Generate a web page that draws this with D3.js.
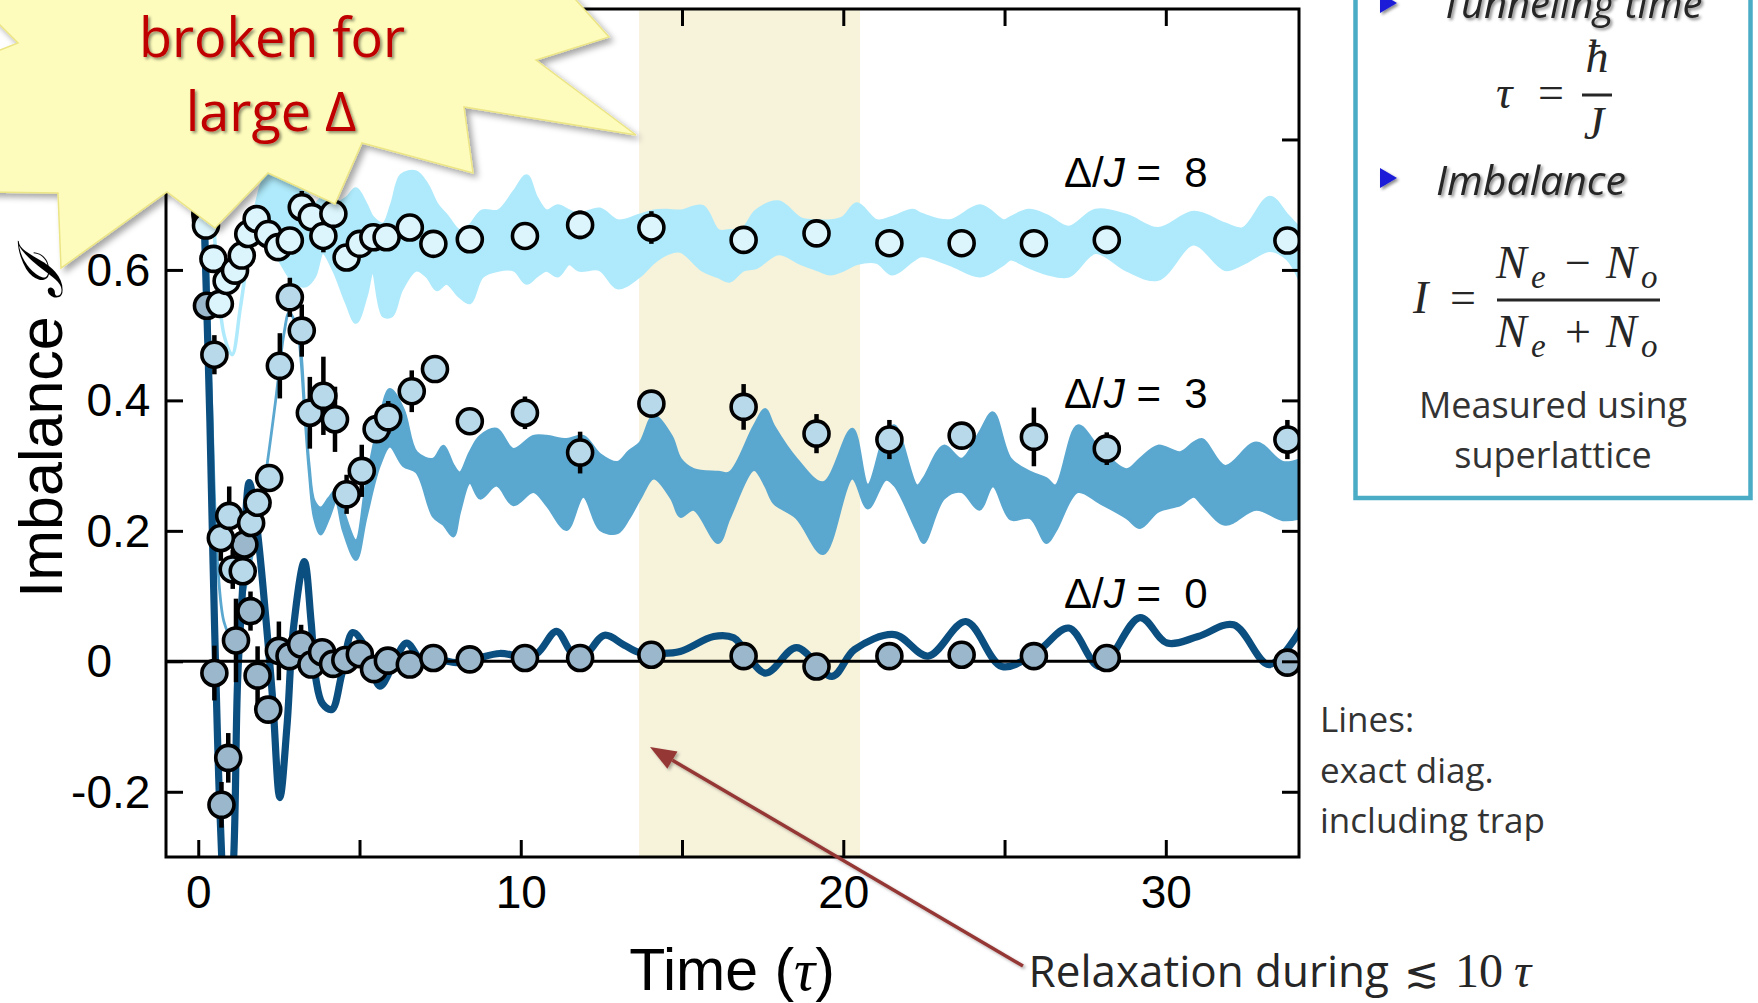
<!DOCTYPE html>
<html>
<head>
<meta charset="utf-8">
<script src="https://cdn.jsdelivr.net/npm/d3@7"></script>
<style>
  html, body { margin: 0; padding: 0; background: #fff; }
  svg { display: block; }
</style>
</head>
<body>
<svg id="chart" width="1758" height="1003"></svg>
<script>
// ---------------- data ----------------
const xTicksAll   = [0, 5, 10, 15, 20, 25, 30];
const xTicksMajor = [0, 10, 20, 30];
const yTickValues = [-0.2, 0, 0.2, 0.4, 0.6, 0.8];
const yTickLabels = ["-0.2", "0", "0.2", "0.4", "0.6"];
const relaxWindow = [13.67, 20.52];           // shaded relaxation window (tau)
const seriesNames = ["8", "3", "0"];          // Delta/J values

// measured imbalance: [time (tau), imbalance, error half-length]
const pointsD8 = [
  [0.24,0.668,0],[0.47,0.617,0],[0.67,0.548,0],[0.88,0.583,0],[1.14,0.599,0],
  [1.35,0.622,0],[1.55,0.655,0],[1.81,0.678,0],[2.17,0.655,0],[2.48,0.635,0],
  [2.84,0.645,0],[3.21,0.696,0.025],[3.52,0.681,0],[3.88,0.652,0.025],[4.19,0.686,0],
  [4.60,0.619,0],[5.01,0.640,0],[5.43,0.650,0],[5.84,0.650,0],[6.56,0.665,0],
  [7.29,0.640,0],[8.42,0.647,0],[10.13,0.652,0],[11.84,0.669,0.022],[14.05,0.665,0.025],
  [16.91,0.646,0],[19.17,0.656,0],[21.43,0.641,0],[23.67,0.641,0],[25.91,0.641,0],
  [28.17,0.646,0],[33.77,0.645,0]
];
const pointsD3 = [
  [0.24,0.676,0],[0.50,0.470,0.03],[0.70,0.189,0.035],[0.96,0.223,0.045],[1.07,0.141,0.03],
  [1.38,0.138,0],[1.64,0.212,0],[1.84,0.243,0],[2.20,0.281,0],[2.53,0.453,0.05],
  [2.84,0.558,0.03],[3.21,0.507,0.04],[3.46,0.381,0.055],[3.88,0.407,0.06],[4.24,0.371,0.05],
  [4.60,0.256,0.03],[5.07,0.292,0.04],[5.53,0.356,0.02],[5.89,0.374,0.025],[6.62,0.414,0.032],
  [7.34,0.448,0],[8.42,0.368,0.02],[10.13,0.381,0.025],[11.84,0.320,0.032],[14.05,0.395,0.02],
  [16.91,0.390,0.035],[19.17,0.349,0.03],[21.43,0.340,0.03],[23.67,0.346,0],[25.91,0.344,0.045],
  [28.17,0.326,0.025],[33.77,0.340,0.03]
];
const pointsD0 = [
  [0.22,0.685,0],[0.27,0.545,0],[0.50,-0.018,0.042],[0.72,-0.220,0.035],[0.93,-0.148,0.038],
  [1.17,0.032,0.064],[1.43,0.179,0],[1.62,0.077,0.03],[1.84,-0.022,0.045],[2.17,-0.074,0],
  [2.50,0.016,0.045],[2.83,0.008,0],[3.19,0.026,0.03],[3.51,-0.005,0],[3.84,0.014,0],
  [4.18,-0.004,0],[4.56,0.002,0],[5.01,0.011,0],[5.45,-0.012,0],[5.88,0.001,0],
  [6.56,-0.005,0],[7.29,0.005,0],[8.42,0.003,0],[10.13,0.005,0],[11.84,0.005,0],
  [14.05,0.010,0],[16.91,0.008,0],[19.17,-0.008,0],[21.43,0.008,0],[23.67,0.010,0],
  [25.91,0.008,0],[28.17,0.005,0],[33.77,-0.002,0]
];

// exact-diagonalisation bands: [time, lower, upper]
const theoryD8 = [
  [0,0.86,0.86],[0.3,0.80,0.80],[0.55,0.62,0.62],[0.8,0.50,0.50],[1.05,0.47,0.47],
  [1.3,0.54,0.54],[1.6,0.64,0.645],[1.85,0.70,0.71],[2.05,0.70,0.74],[2.3,0.64,0.75],
  [2.7,0.60,0.74],[3.0,0.58,0.73],[3.34,0.576,0.72],[3.6,0.59,0.70],[3.86,0.627,0.71],
  [4.2,0.60,0.70],[4.6,0.55,0.71],[4.89,0.52,0.724],[5.2,0.56,0.70],[5.41,0.60,0.68],
  [5.74,0.53,0.67],[6.0,0.53,0.70],[6.3,0.57,0.745],[6.75,0.60,0.75],[7.1,0.59,0.73],
  [7.4,0.57,0.70],[7.7,0.58,0.683],[8.1,0.56,0.66],[8.42,0.55,0.668],[8.8,0.59,0.69],
  [9.3,0.60,0.69],[9.8,0.60,0.72],[10.18,0.58,0.744],[10.49,0.591,0.71],[10.8,0.60,0.69],
  [11.15,0.591,0.698],[11.5,0.61,0.69],[11.8,0.60,0.685],[12.45,0.601,0.693],[13.0,0.573,0.675],
  [13.66,0.59,0.683],[14.12,0.612,0.69],[14.53,0.625,0.691],[14.95,0.629,0.69],[15.64,0.60,0.697],
  [16.12,0.59,0.66],[16.47,0.583,0.66],[16.89,0.60,0.663],[17.3,0.604,0.69],[17.99,0.625,0.704],
  [18.69,0.61,0.678],[19.24,0.60,0.675],[19.6,0.594,0.675],[20.0,0.60,0.68],[20.42,0.61,0.701],
  [21.04,0.612,0.675],[21.52,0.594,0.68],[22.15,0.615,0.691],[22.42,0.622,0.685],[23.3,0.609,0.675],
  [24.25,0.591,0.698],[24.98,0.61,0.675],[25.19,0.617,0.68],[25.75,0.605,0.691],[26.3,0.595,0.683],
  [26.99,0.591,0.665],[27.82,0.627,0.691],[28.79,0.60,0.683],[29.76,0.586,0.663],[30.87,0.640,0.688],
  [31.84,0.601,0.67],[32.39,0.61,0.663],[33.22,0.63,0.711],[33.77,0.617,0.683],[34.2,0.58,0.66]
];
const theoryD3 = [
  [0,0.86,0.86],[0.2,0.74,0.74],[0.4,0.42,0.42],[0.6,0.15,0.15],[0.8,0.06,0.06],
  [1.0,0.04,0.04],[1.3,0.08,0.08],[1.7,0.17,0.17],[2.1,0.29,0.29],[2.4,0.40,0.40],
  [2.65,0.50,0.50],[2.82,0.535,0.535],[3.0,0.52,0.52],[3.13,0.49,0.50],[3.3,0.38,0.39],
  [3.44,0.29,0.30],[3.6,0.22,0.245],[3.8,0.195,0.235],[4.05,0.22,0.25],[4.27,0.245,0.262],
  [4.5,0.20,0.23],[4.89,0.156,0.185],[5.2,0.22,0.27],[5.62,0.30,0.37],[5.94,0.33,0.417],
  [6.36,0.30,0.386],[6.77,0.29,0.32],[7.29,0.222,0.31],[7.6,0.21,0.33],[7.91,0.192,0.30],
  [8.11,0.23,0.289],[8.42,0.274,0.32],[8.74,0.25,0.345],[9.25,0.27,0.356],[9.77,0.24,0.325],
  [10.39,0.26,0.345],[10.8,0.24,0.345],[11.42,0.202,0.34],[11.94,0.253,0.345],[12.46,0.202,0.317],
  [13.0,0.197,0.305],[13.36,0.22,0.322],[13.7,0.25,0.335],[14.12,0.281,0.376],[14.67,0.25,0.345],
  [14.95,0.222,0.31],[15.36,0.233,0.294],[16.12,0.182,0.29],[16.47,0.22,0.289],[17.23,0.294,0.36],
  [17.58,0.27,0.386],[17.85,0.243,0.36],[18.55,0.22,0.31],[19.38,0.165,0.274],[20.28,0.281,0.356],
  [20.76,0.235,0.27],[21.32,0.279,0.35],[21.59,0.27,0.361],[22.29,0.20,0.269],[22.49,0.182,0.28],
  [23.12,0.25,0.33],[23.67,0.26,0.31],[24.22,0.233,0.35],[24.64,0.269,0.381],[25.19,0.218,0.31],
  [25.8,0.22,0.29],[26.3,0.182,0.28],[26.58,0.20,0.269],[27.27,0.26,0.361],[27.96,0.243,0.325],
  [28.79,0.22,0.294],[29.2,0.205,0.31],[29.76,0.23,0.33],[30.45,0.24,0.32],[30.87,0.253,0.335],
  [31.14,0.24,0.34],[31.84,0.21,0.299],[32.8,0.233,0.335],[33.63,0.217,0.305],[34.2,0.22,0.31]
];
// exact-diagonalisation curve for Delta/J = 0: [time, imbalance]
const theoryD0 = [
  [0,0.86],[0.1,0.80],[0.2,0.65],[0.36,0.37],[0.46,0.15],[0.55,-0.03],[0.68,-0.24],
  [0.88,-0.42],[1.08,-0.32],[1.22,-0.03],[1.38,0.115],[1.58,0.274],[1.79,0.217],[2.1,0.064],
  [2.31,-0.06],[2.53,-0.209],[2.75,-0.10],[2.95,0.05],[3.29,0.153],[3.5,0.06],[3.65,-0.028],
  [3.85,-0.065],[4.14,-0.074],[4.45,-0.02],[4.79,0.044],[5.2,0.02],[5.63,-0.038],[6.0,-0.01],
  [6.46,0.028],[6.95,0.0],[7.5,0.002],[8.0,-0.002],[8.6,0.004],[9.35,0.012],[10.0,0.008],
  [10.5,0.012],[11.11,0.046],[11.6,0.012],[11.95,0.008],[12.6,0.04],[13.2,0.025],[13.7,0.013],
  [14.3,0.012],[14.94,0.015],[15.98,0.038],[16.6,0.036],[17.58,-0.018],[18.55,0.021],[19.65,-0.023],
  [20.35,0.018],[21.59,0.041],[22.63,0.008],[23.8,0.061],[24.92,-0.008],[26.02,0.015],[26.99,0.051],
  [27.96,-0.008],[29.2,0.067],[30.04,0.028],[31.0,0.038],[32.1,0.056],[33.2,-0.005],[34.2,0.05]
];

// ---------------- layout ----------------
const svg = d3.select("#chart");
const M = { left: 166, right: 1299, top: 9, bottom: 857 };
const x = d3.scaleLinear().domain([-1, 34.13]).range([M.left, M.right]);
const y = d3.scaleLinear().domain([-0.3, 1.0]).range([M.bottom, M.top]);

const SANS = "'Liberation Sans', Arial, Helvetica, sans-serif";
const CAL  = "'Open Sans', 'Noto Sans', sans-serif";
const MATH = "'Liberation Serif', 'Times New Roman', serif";

const defs = svg.append("defs");
defs.append("clipPath").attr("id", "plotClip").append("rect")
  .attr("x", M.left).attr("y", M.top)
  .attr("width", M.right - M.left).attr("height", M.bottom - M.top);

function shadow(id, dx, dy, sd, op) {
  defs.append("filter").attr("id", id)
    .attr("x", "-20%").attr("y", "-20%").attr("width", "140%").attr("height", "140%")
    .append("feDropShadow").attr("dx", dx).attr("dy", dy).attr("stdDeviation", sd)
    .attr("flood-color", "#000").attr("flood-opacity", op);
}
shadow("starShadow", 4, 4, 3, 0.35);
shadow("textShadow", 2, 2, 1.4, 0.45);
shadow("lineShadow", 2, 2, 1.5, 0.3);

// relaxation window
svg.append("rect")
  .attr("x", x(relaxWindow[0])).attr("y", M.top)
  .attr("width", x(relaxWindow[1]) - x(relaxWindow[0]))
  .attr("height", M.bottom - M.top)
  .attr("fill", "#f7f2da");

const plot = svg.append("g").attr("clip-path", "url(#plotClip)");
const curve = d3.curveCatmullRom.alpha(0.5);
const band = d3.area().x(d => x(d[0])).y0(d => y(d[1])).y1(d => y(d[2])).curve(curve);
const line = d3.line().x(d => x(d[0])).y(d => y(d[1])).curve(curve);

plot.append("path").datum(theoryD8).attr("d", band)
  .attr("fill", "#aeeafb").attr("stroke", "#aeeafb").attr("stroke-width", 3.5)
  .attr("stroke-linejoin", "round");
plot.append("path").datum(theoryD3).attr("d", band)
  .attr("fill", "#5aa7d0").attr("stroke", "#5aa7d0").attr("stroke-width", 2.8)
  .attr("stroke-linejoin", "round");
plot.append("path").datum(theoryD0).attr("d", line)
  .attr("fill", "none").attr("stroke", "#0b4f80").attr("stroke-width", 7.2)
  .attr("stroke-linejoin", "round").attr("stroke-linecap", "round");

// zero reference line
plot.append("line")
  .attr("x1", M.left).attr("x2", M.right).attr("y1", y(0)).attr("y2", y(0))
  .attr("stroke", "#000").attr("stroke-width", 3);

// measured points with error bars
const series = [
  { pts: pointsD0, fill: "#9ab7cb" },
  { pts: pointsD3, fill: "#b8d9ea" },
  { pts: pointsD8, fill: "#dcf5fd" }
];
series.forEach(s => {
  const g = plot.append("g");
  g.selectAll("line.err").data(s.pts.filter(d => d[2] > 0)).join("line")
    .attr("x1", d => x(d[0])).attr("x2", d => x(d[0]))
    .attr("y1", d => y(d[1] - d[2])).attr("y2", d => y(d[1] + d[2]))
    .attr("stroke", "#000").attr("stroke-width", 4.5);
  g.selectAll("circle").data(s.pts).join("circle")
    .attr("cx", d => x(d[0])).attr("cy", d => y(d[1])).attr("r", 12.5)
    .attr("fill", s.fill).attr("stroke", "#000").attr("stroke-width", 3.6);
});

// ---------------- axes ----------------
function styleAxis(g) {
  g.select(".domain").remove();
  g.selectAll(".tick line").attr("stroke", "#000").attr("stroke-width", 3);
}
svg.append("g").attr("transform", `translate(0,${M.bottom})`)
  .call(d3.axisBottom(x).tickValues(xTicksAll).tickSizeInner(-17).tickSizeOuter(0)
    .tickPadding(18).tickFormat(d => xTicksMajor.includes(d) ? d : ""))
  .call(styleAxis)
  .call(g => g.selectAll("text").attr("font-family", SANS).attr("font-size", 46).attr("fill", "#000"));
svg.append("g").attr("transform", `translate(0,${M.top})`)
  .call(d3.axisTop(x).tickValues(xTicksAll).tickSizeInner(-17).tickSizeOuter(0).tickFormat(""))
  .call(styleAxis);
svg.append("g").attr("transform", `translate(${M.left},0)`)
  .call(d3.axisLeft(y).tickValues(yTickValues).tickSizeInner(-17).tickSizeOuter(0).tickFormat(""))
  .call(styleAxis);
svg.append("g").attr("transform", `translate(${M.right},0)`)
  .call(d3.axisRight(y).tickValues(yTickValues).tickSizeInner(-17).tickSizeOuter(0).tickFormat(""))
  .call(styleAxis);

// frame
svg.append("rect")
  .attr("x", M.left).attr("y", M.top)
  .attr("width", M.right - M.left).attr("height", M.bottom - M.top)
  .attr("fill", "none").attr("stroke", "#000").attr("stroke-width", 3);

// y tick labels, aligned on the decimal point
const decimalX = 112;
yTickLabels.forEach(lbl => {
  const v = +lbl;
  const parts = lbl.split(".");
  const t = svg.append("g").attr("font-family", SANS).attr("font-size", 46).attr("fill", "#000");
  t.append("text").attr("x", decimalX).attr("y", y(v)).attr("dy", "0.35em")
    .attr("text-anchor", "end").text(parts[0]);
  if (parts.length > 1) {
    t.append("text").attr("x", decimalX).attr("y", y(v)).attr("dy", "0.35em")
      .attr("text-anchor", "start").text("." + parts[1]);
  }
});

// axis titles
const xTitle = svg.append("text")
  .attr("x", 732).attr("y", 990)
  .attr("font-family", SANS).attr("font-size", 59).attr("fill", "#000")
  .attr("text-anchor", "middle");
xTitle.append("tspan").text("Time (");
xTitle.append("tspan").attr("font-family", MATH).attr("font-style", "italic").text("τ");
xTitle.append("tspan").text(")");

const yTitle = svg.append("text")
  .attr("transform", "translate(62,426) rotate(-90)")
  .attr("font-family", SANS).attr("font-size", 61).attr("fill", "#000")
  .attr("text-anchor", "middle");
yTitle.append("tspan").text("Imbalance ");
yTitle.append("tspan").attr("font-family", "'DejaVu Serif', serif").attr("font-style", "italic").text("ℐ");

// series labels
const labelY = { "8": 187, "3": 408, "0": 608 };
seriesNames.forEach(n => {
  const t = svg.append("text").attr("x", 1064).attr("y", labelY[n])
    .attr("font-family", SANS).attr("font-size", 42).attr("fill", "#000")
    .attr("xml:space", "preserve");
  t.append("tspan").text("Δ/");
  t.append("tspan").attr("font-style", "italic").text("J");
  t.append("tspan").text(" =  " + n);
});

// ---------------- annotations ----------------
// arrow pointing into the relaxation window
const arrowFrom = [1023, 966], arrowTo = [650, 747];
const ang = Math.atan2(arrowTo[1] - arrowFrom[1], arrowTo[0] - arrowFrom[0]);
const headL = 26, headW = 10;
const base = [arrowTo[0] - headL * Math.cos(ang), arrowTo[1] - headL * Math.sin(ang)];
const arrowG = svg.append("g").attr("filter", "url(#lineShadow)");
arrowG.append("line")
  .attr("x1", arrowFrom[0]).attr("y1", arrowFrom[1]).attr("x2", base[0]).attr("y2", base[1])
  .attr("stroke", "#953735").attr("stroke-width", 3.5);
arrowG.append("polygon")
  .attr("points", [
    arrowTo,
    [base[0] + headW * Math.sin(ang), base[1] - headW * Math.cos(ang)],
    [base[0] - headW * Math.sin(ang), base[1] + headW * Math.cos(ang)]
  ].map(p => p.join(",")).join(" "))
  .attr("fill", "#953735");

// relaxation note
svg.append("text").attr("x", 1389).attr("y", 987).attr("text-anchor", "end")
  .attr("font-family", CAL).attr("font-size", 44).attr("fill", "#262626")
  .text("Relaxation during");
svg.append("text").attr("x", 1404).attr("y", 987)
  .attr("font-family", "'DejaVu Serif', serif").attr("font-size", 42).attr("fill", "#262626")
  .text("≲");
svg.append("text").attr("x", 1455).attr("y", 987)
  .attr("font-family", MATH).attr("font-size", 48).attr("fill", "#262626")
  .text("10");
svg.append("text").attr("x", 1514).attr("y", 987)
  .attr("font-family", MATH).attr("font-style", "italic").attr("font-size", 48).attr("fill", "#262626")
  .text("τ");

// theory note
const linesNote = ["Lines:", "exact diag.", "including trap"];
svg.append("g").selectAll("text").data(linesNote).join("text")
  .attr("x", 1320).attr("y", (d, i) => 732 + i * 50.5)
  .attr("font-family", CAL).attr("font-size", 35).attr("fill", "#333")
  .text(d => d);

// definitions box
const box = svg.append("g");
box.append("rect").attr("x", 1355.5).attr("y", -20).attr("width", 395).attr("height", 518)
  .attr("fill", "#fff").attr("stroke", "#4bacc6").attr("stroke-width", 4.5);
function bullet(cy) {
  box.append("polygon")
    .attr("points", `1380,${cy - 10} 1380,${cy + 10} 1397,${cy}`)
    .attr("fill", "#1c1cd8").attr("filter", "url(#textShadow)");
}
bullet(3);
bullet(178);
box.append("text").attr("x", 1441).attr("y", 18)
  .attr("font-family", CAL).attr("font-style", "italic").attr("font-size", 40)
  .attr("fill", "#262626").attr("filter", "url(#textShadow)").text("Tunneling time");
box.append("text").attr("x", 1436).attr("y", 195)
  .attr("font-family", CAL).attr("font-style", "italic").attr("font-size", 41)
  .attr("fill", "#262626").attr("filter", "url(#textShadow)").text("Imbalance");

// tau = hbar / J
const mt = box.append("g").attr("font-family", MATH).attr("fill", "#262626");
mt.append("text").attr("x", 1496).attr("y", 108).attr("font-size", 46).attr("font-style", "italic").text("τ");
mt.append("text").attr("x", 1551).attr("y", 108).attr("font-size", 46).attr("text-anchor", "middle").text("=");
mt.append("text").attr("x", 1597).attr("y", 72).attr("font-size", 46).attr("font-style", "italic").attr("text-anchor", "middle").text("ħ");
mt.append("text").attr("x", 1594).attr("y", 139).attr("font-size", 46).attr("font-style", "italic").attr("text-anchor", "middle").text("J");
mt.append("line").attr("x1", 1582).attr("x2", 1612).attr("y1", 95).attr("y2", 95)
  .attr("stroke", "#262626").attr("stroke-width", 3);

// I = (Ne - No)/(Ne + No)
const mi = box.append("g").attr("font-family", MATH).attr("fill", "#262626");
mi.append("text").attr("x", 1413).attr("y", 313).attr("font-size", 46).attr("font-style", "italic").text("I");
mi.append("text").attr("x", 1463).attr("y", 313).attr("font-size", 46).attr("text-anchor", "middle").text("=");
mi.append("line").attr("x1", 1497).attr("x2", 1660).attr("y1", 300).attr("y2", 300)
  .attr("stroke", "#262626").attr("stroke-width", 3);
function ratioRow(baseY, op) {
  mi.append("text").attr("x", 1496).attr("y", baseY).attr("font-size", 46).attr("font-style", "italic").text("N");
  mi.append("text").attr("x", 1531).attr("y", baseY + 10).attr("font-size", 33).attr("font-style", "italic").text("e");
  mi.append("text").attr("x", 1578).attr("y", baseY).attr("font-size", 46).attr("text-anchor", "middle").text(op);
  mi.append("text").attr("x", 1606).attr("y", baseY).attr("font-size", 46).attr("font-style", "italic").text("N");
  mi.append("text").attr("x", 1641).attr("y", baseY + 10).attr("font-size", 33).attr("font-style", "italic").text("o");
}
ratioRow(278, "−");
ratioRow(347, "+");

box.append("text").attr("x", 1553).attr("y", 418).attr("text-anchor", "middle")
  .attr("font-family", CAL).attr("font-size", 36).attr("fill", "#333").text("Measured using");
box.append("text").attr("x", 1553).attr("y", 468).attr("text-anchor", "middle")
  .attr("font-family", CAL).attr("font-size", 36).attr("fill", "#333").text("superlattice");

// starburst callout
const starOutline = [
  [558,-20],[609,37],[536,60],[636,135],[464,107],[473,173],[362,143],[335,204],
  [268,173],[215,228],[167,192],[61,268],[58,193],[-20,192],[-20,58],[18,43],[-20,5],[-20,-20]
];
svg.append("polygon")
  .attr("points", starOutline.map(p => p.join(",")).join(" "))
  .attr("fill", "#fdfcbc").attr("stroke", "#ece585").attr("stroke-width", 1.5)
  .attr("filter", "url(#starShadow)");
const starText = svg.append("g")
  .attr("font-family", CAL).attr("font-size", 54).attr("fill", "#c00000")
  .attr("text-anchor", "middle").attr("filter", "url(#textShadow)");
starText.append("text").attr("x", 272).attr("y", 57).text("broken for");
starText.append("text").attr("x", 271).attr("y", 131).text("large Δ");
</script>
</body>
</html>
